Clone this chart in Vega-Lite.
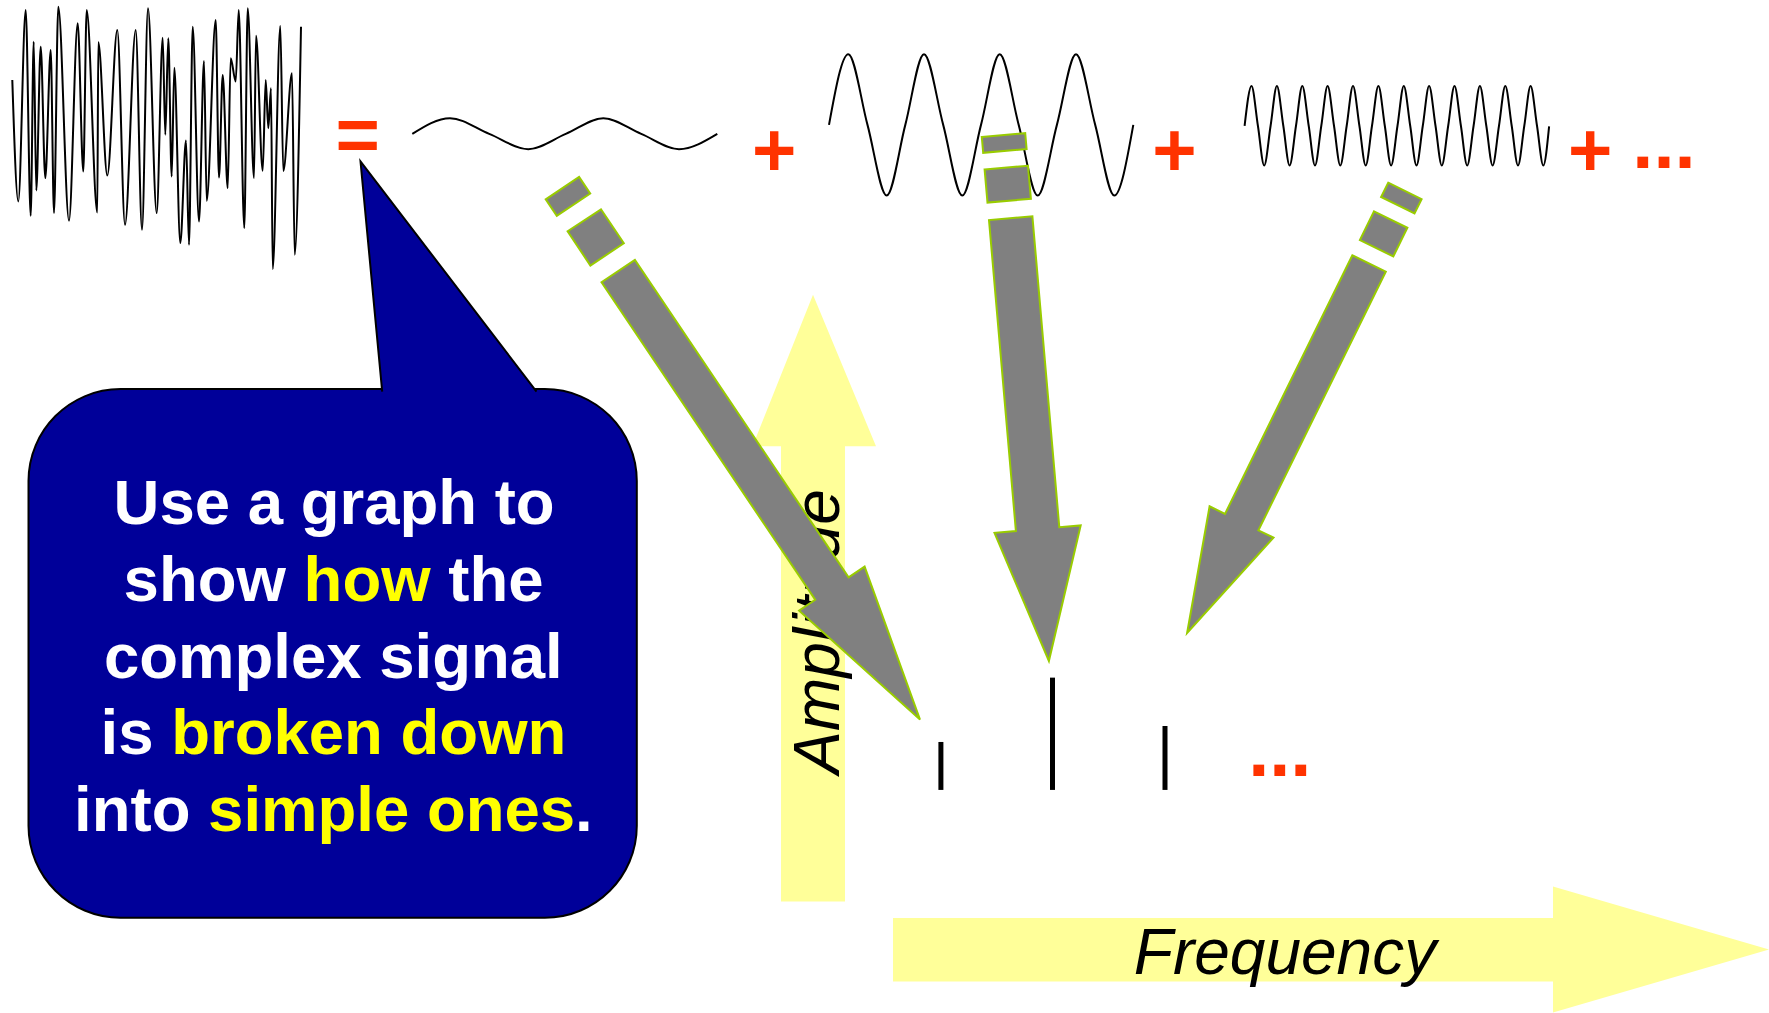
{
  "$schema": "https://vega.github.io/schema/vega-lite/v6.json",
  "width": 1769,
  "height": 1013,
  "autosize": {"type": "fit", "contains": "padding"},
  "padding": 0,
  "background": "white",
  "config": {"view": {"stroke": null}},
  "datasets": {
    "yellowArrows": [
      {"shape": "amp", "i": 0, "x": 781, "y": 902.4},
      {"shape": "amp", "i": 1, "x": 781, "y": 446.7},
      {"shape": "amp", "i": 2, "x": 752.5, "y": 446.7},
      {"shape": "amp", "i": 3, "x": 813, "y": 295},
      {"shape": "amp", "i": 4, "x": 876, "y": 446.7},
      {"shape": "amp", "i": 5, "x": 845, "y": 446.7},
      {"shape": "amp", "i": 6, "x": 845, "y": 902.4},
      {"shape": "freq", "i": 0, "x": 893, "y": 919},
      {"shape": "freq", "i": 1, "x": 1553, "y": 919},
      {"shape": "freq", "i": 2, "x": 1553, "y": 887.5},
      {"shape": "freq", "i": 3, "x": 1769, "y": 950.5},
      {"shape": "freq", "i": 4, "x": 1553, "y": 1013.5},
      {"shape": "freq", "i": 5, "x": 1553, "y": 982.5},
      {"shape": "freq", "i": 6, "x": 893, "y": 982.5}
    ],
    "greyArrows": [
      {"shape": "a1body", "i": 0, "x": 601.5, "y": 282.5},
      {"shape": "a1body", "i": 1, "x": 815.2, "y": 600.4},
      {"shape": "a1body", "i": 2, "x": 799.1, "y": 611.3},
      {"shape": "a1body", "i": 3, "x": 920, "y": 720.3},
      {"shape": "a1body", "i": 4, "x": 864.6, "y": 567.2},
      {"shape": "a1body", "i": 5, "x": 848.6, "y": 578},
      {"shape": "a1body", "i": 6, "x": 634.9, "y": 260.1},
      {"shape": "a1d1", "i": 0, "x": 545.7, "y": 199.5},
      {"shape": "a1d1", "i": 1, "x": 579.1, "y": 177.1},
      {"shape": "a1d1", "i": 2, "x": 590.2, "y": 193.7},
      {"shape": "a1d1", "i": 3, "x": 556.8, "y": 216.1},
      {"shape": "a1d2", "i": 0, "x": 567.6, "y": 231.5},
      {"shape": "a1d2", "i": 1, "x": 601, "y": 209.5},
      {"shape": "a1d2", "i": 2, "x": 623.8, "y": 243.5},
      {"shape": "a1d2", "i": 3, "x": 590.4, "y": 265.8},
      {"shape": "a2body", "i": 0, "x": 989, "y": 220.3},
      {"shape": "a2body", "i": 1, "x": 1015.9, "y": 531.6},
      {"shape": "a2body", "i": 2, "x": 994.5, "y": 533.4},
      {"shape": "a2body", "i": 3, "x": 1048.9, "y": 661.6},
      {"shape": "a2body", "i": 4, "x": 1080.7, "y": 526},
      {"shape": "a2body", "i": 5, "x": 1059.3, "y": 527.8},
      {"shape": "a2body", "i": 6, "x": 1032.4, "y": 216.5},
      {"shape": "a2d1", "i": 0, "x": 981.8, "y": 137.1},
      {"shape": "a2d1", "i": 1, "x": 1025.2, "y": 133.3},
      {"shape": "a2d1", "i": 2, "x": 1026.6, "y": 149.2},
      {"shape": "a2d1", "i": 3, "x": 983.2, "y": 153},
      {"shape": "a2d2", "i": 0, "x": 984.6, "y": 169.7},
      {"shape": "a2d2", "i": 1, "x": 1028, "y": 165.9},
      {"shape": "a2d2", "i": 2, "x": 1030.9, "y": 199},
      {"shape": "a2d2", "i": 3, "x": 987.5, "y": 202.8},
      {"shape": "a3body", "i": 0, "x": 1352.4, "y": 255.5},
      {"shape": "a3body", "i": 1, "x": 1225, "y": 514.4},
      {"shape": "a3body", "i": 2, "x": 1209.6, "y": 506.8},
      {"shape": "a3body", "i": 3, "x": 1187.1, "y": 633.6},
      {"shape": "a3body", "i": 4, "x": 1273.5, "y": 538.2},
      {"shape": "a3body", "i": 5, "x": 1258.4, "y": 530.8},
      {"shape": "a3body", "i": 6, "x": 1385.8, "y": 271.9},
      {"shape": "a3d1", "i": 0, "x": 1388.2, "y": 182.9},
      {"shape": "a3d1", "i": 1, "x": 1421.6, "y": 199.3},
      {"shape": "a3d1", "i": 2, "x": 1414.5, "y": 213.6},
      {"shape": "a3d1", "i": 3, "x": 1381.1, "y": 197.2},
      {"shape": "a3d2", "i": 0, "x": 1374, "y": 211.6},
      {"shape": "a3d2", "i": 1, "x": 1407.4, "y": 228},
      {"shape": "a3d2", "i": 2, "x": 1393.3, "y": 256.7},
      {"shape": "a3d2", "i": 3, "x": 1359.9, "y": 240.3}
    ],
    "pointer": [
      {"i": 0, "x": 382.2, "y": 392},
      {"i": 1, "x": 360.5, "y": 161.5},
      {"i": 2, "x": 536.5, "y": 392}
    ],
    "bubble": [{"x": 28.5, "x2": 636.8, "y": 389.5, "y2": 918.6}],
    "stems": [
      {"freq": 940.9, "amp": 742.7, "base": 790.7},
      {"freq": 1052.5, "amp": 678.3, "base": 790.7},
      {"freq": 1165, "amp": 726.7, "base": 790.7}
    ],
    "redSymbols": [
      {"t": "=", "x": 357.8, "y": 160.8},
      {"t": "+", "x": 774.2, "y": 176.4},
      {"t": "+", "x": 1174.5, "y": 176.4},
      {"t": "+", "x": 1590.3, "y": 176.4},
      {"t": "...", "x": 1664, "y": 168.3},
      {"t": "...", "x": 1279.8, "y": 776.7}
    ],
    "axisLabels": [
      {"t": "Frequency", "x": 1285, "y": 975}
    ],
    "ampLabel": [
      {"t": "Amplitude", "x": 839, "y": 632}
    ],
    "bubbleText": [
      {"t": "Use a graph to", "hl": "n", "x": 113.6, "y": 524.6},
      {"t": "show", "hl": "n", "x": 123.6, "y": 601.4},
      {"t": "how", "hl": "y", "x": 303.6, "y": 601.4},
      {"t": "the", "hl": "n", "x": 448.3, "y": 601.4},
      {"t": "complex signal", "hl": "n", "x": 103.9, "y": 678.2},
      {"t": "is", "hl": "n", "x": 100.6, "y": 755},
      {"t": "broken down", "hl": "y", "x": 171.2, "y": 755},
      {"t": "into", "hl": "n", "x": 74.1, "y": 831.8},
      {"t": "simple ones", "hl": "y", "x": 208.1, "y": 831.8},
      {"t": ".", "hl": "n", "x": 575.1, "y": 831.8}
    ],
    "signals": [
      {"s": "complex", "i": 0, "x": 12.3, "y": 80},
      {"s": "complex", "i": 1, "x": 18.3, "y": 201.7},
      {"s": "complex", "i": 2, "x": 25.7, "y": 10},
      {"s": "complex", "i": 3, "x": 30.7, "y": 216},
      {"s": "complex", "i": 4, "x": 33.7, "y": 41.7},
      {"s": "complex", "i": 5, "x": 36.3, "y": 190.7},
      {"s": "complex", "i": 6, "x": 40.7, "y": 46.7},
      {"s": "complex", "i": 7, "x": 45.3, "y": 178.3},
      {"s": "complex", "i": 8, "x": 50.7, "y": 50},
      {"s": "complex", "i": 9, "x": 54, "y": 213.3},
      {"s": "complex", "i": 10, "x": 58.3, "y": 6.7},
      {"s": "complex", "i": 11, "x": 69, "y": 221},
      {"s": "complex", "i": 12, "x": 77.7, "y": 23.3},
      {"s": "complex", "i": 13, "x": 83.3, "y": 171.7},
      {"s": "complex", "i": 14, "x": 86.7, "y": 10},
      {"s": "complex", "i": 15, "x": 97.3, "y": 212.7},
      {"s": "complex", "i": 16, "x": 98.3, "y": 42.3},
      {"s": "complex", "i": 17, "x": 107.3, "y": 175.7},
      {"s": "complex", "i": 18, "x": 117.3, "y": 30},
      {"s": "complex", "i": 19, "x": 125, "y": 225},
      {"s": "complex", "i": 20, "x": 135.7, "y": 30},
      {"s": "complex", "i": 21, "x": 142, "y": 230},
      {"s": "complex", "i": 22, "x": 148, "y": 8.3},
      {"s": "complex", "i": 23, "x": 156.7, "y": 213.3},
      {"s": "complex", "i": 24, "x": 162.7, "y": 37.7},
      {"s": "complex", "i": 25, "x": 165.3, "y": 135},
      {"s": "complex", "i": 26, "x": 168.3, "y": 38.3},
      {"s": "complex", "i": 27, "x": 171.7, "y": 176.7},
      {"s": "complex", "i": 28, "x": 174.3, "y": 67.7},
      {"s": "complex", "i": 29, "x": 180.3, "y": 243.3},
      {"s": "complex", "i": 30, "x": 186, "y": 140.7},
      {"s": "complex", "i": 31, "x": 189, "y": 245},
      {"s": "complex", "i": 32, "x": 192.7, "y": 26.7},
      {"s": "complex", "i": 33, "x": 199, "y": 221.7},
      {"s": "complex", "i": 34, "x": 204, "y": 61},
      {"s": "complex", "i": 35, "x": 206.7, "y": 201},
      {"s": "complex", "i": 36, "x": 215.7, "y": 20},
      {"s": "complex", "i": 37, "x": 219, "y": 177.7},
      {"s": "complex", "i": 38, "x": 222.7, "y": 75},
      {"s": "complex", "i": 39, "x": 227.7, "y": 188.3},
      {"s": "complex", "i": 40, "x": 230.7, "y": 58.3},
      {"s": "complex", "i": 41, "x": 235.7, "y": 81.7},
      {"s": "complex", "i": 42, "x": 238.7, "y": 10},
      {"s": "complex", "i": 43, "x": 244.3, "y": 228.3},
      {"s": "complex", "i": 44, "x": 247.7, "y": 8.3},
      {"s": "complex", "i": 45, "x": 254, "y": 178.3},
      {"s": "complex", "i": 46, "x": 256, "y": 35.7},
      {"s": "complex", "i": 47, "x": 262.7, "y": 171},
      {"s": "complex", "i": 48, "x": 265.7, "y": 80},
      {"s": "complex", "i": 49, "x": 268.3, "y": 128.3},
      {"s": "complex", "i": 50, "x": 271, "y": 88.3},
      {"s": "complex", "i": 51, "x": 272.7, "y": 269.3},
      {"s": "complex", "i": 52, "x": 280.3, "y": 26},
      {"s": "complex", "i": 53, "x": 283.3, "y": 171},
      {"s": "complex", "i": 54, "x": 292, "y": 73.3},
      {"s": "complex", "i": 55, "x": 294.7, "y": 255},
      {"s": "complex", "i": 56, "x": 301, "y": 26.7},
      {"s": "w1", "i": 0, "x": 412.3, "y": 134},
      {"s": "w1", "i": 1, "x": 450, "y": 118.3},
      {"s": "w1", "i": 2, "x": 489.2, "y": 134},
      {"s": "w1", "i": 3, "x": 528.3, "y": 149.3},
      {"s": "w1", "i": 4, "x": 565.8, "y": 134},
      {"s": "w1", "i": 5, "x": 603.3, "y": 118.3},
      {"s": "w1", "i": 6, "x": 641.2, "y": 134},
      {"s": "w1", "i": 7, "x": 679, "y": 149.3},
      {"s": "w1", "i": 8, "x": 717.3, "y": 134},
      {"s": "w2", "i": 0, "x": 829, "y": 125},
      {"s": "w2", "i": 1, "x": 848.3, "y": 54.3},
      {"s": "w2", "i": 2, "x": 867.5, "y": 125},
      {"s": "w2", "i": 3, "x": 886.7, "y": 195.7},
      {"s": "w2", "i": 4, "x": 905.3, "y": 125},
      {"s": "w2", "i": 5, "x": 924, "y": 54.3},
      {"s": "w2", "i": 6, "x": 943.2, "y": 125},
      {"s": "w2", "i": 7, "x": 962.3, "y": 195.7},
      {"s": "w2", "i": 8, "x": 981, "y": 125},
      {"s": "w2", "i": 9, "x": 999.7, "y": 54.3},
      {"s": "w2", "i": 10, "x": 1018.7, "y": 125},
      {"s": "w2", "i": 11, "x": 1037.7, "y": 195.7},
      {"s": "w2", "i": 12, "x": 1056.9, "y": 125},
      {"s": "w2", "i": 13, "x": 1076, "y": 54.3},
      {"s": "w2", "i": 14, "x": 1095.2, "y": 125},
      {"s": "w2", "i": 15, "x": 1114.3, "y": 195.7},
      {"s": "w2", "i": 16, "x": 1133.3, "y": 125},
      {"s": "w3", "i": 0, "x": 1244.6, "y": 125.9},
      {"s": "w3", "i": 1, "x": 1251.5, "y": 86},
      {"s": "w3", "i": 2, "x": 1257.9, "y": 125.9},
      {"s": "w3", "i": 3, "x": 1264.2, "y": 165.7},
      {"s": "w3", "i": 4, "x": 1270.6, "y": 125.9},
      {"s": "w3", "i": 5, "x": 1276.9, "y": 86},
      {"s": "w3", "i": 6, "x": 1283.3, "y": 125.9},
      {"s": "w3", "i": 7, "x": 1289.6, "y": 165.7},
      {"s": "w3", "i": 8, "x": 1296, "y": 125.9},
      {"s": "w3", "i": 9, "x": 1302.3, "y": 86},
      {"s": "w3", "i": 10, "x": 1308.7, "y": 125.9},
      {"s": "w3", "i": 11, "x": 1315, "y": 165.7},
      {"s": "w3", "i": 12, "x": 1321.3, "y": 125.9},
      {"s": "w3", "i": 13, "x": 1327.6, "y": 86},
      {"s": "w3", "i": 14, "x": 1334, "y": 125.9},
      {"s": "w3", "i": 15, "x": 1340.3, "y": 165.7},
      {"s": "w3", "i": 16, "x": 1346.7, "y": 125.9},
      {"s": "w3", "i": 17, "x": 1353, "y": 86},
      {"s": "w3", "i": 18, "x": 1359.4, "y": 125.9},
      {"s": "w3", "i": 19, "x": 1365.7, "y": 165.7},
      {"s": "w3", "i": 20, "x": 1372, "y": 125.9},
      {"s": "w3", "i": 21, "x": 1378.4, "y": 86},
      {"s": "w3", "i": 22, "x": 1384.8, "y": 125.9},
      {"s": "w3", "i": 23, "x": 1391.1, "y": 165.7},
      {"s": "w3", "i": 24, "x": 1397.5, "y": 125.9},
      {"s": "w3", "i": 25, "x": 1403.8, "y": 86},
      {"s": "w3", "i": 26, "x": 1410.2, "y": 125.9},
      {"s": "w3", "i": 27, "x": 1416.5, "y": 165.7},
      {"s": "w3", "i": 28, "x": 1422.8, "y": 125.9},
      {"s": "w3", "i": 29, "x": 1429.1, "y": 86},
      {"s": "w3", "i": 30, "x": 1435.5, "y": 125.9},
      {"s": "w3", "i": 31, "x": 1441.8, "y": 165.7},
      {"s": "w3", "i": 32, "x": 1448.2, "y": 125.9},
      {"s": "w3", "i": 33, "x": 1454.5, "y": 86},
      {"s": "w3", "i": 34, "x": 1460.9, "y": 125.9},
      {"s": "w3", "i": 35, "x": 1467.2, "y": 165.7},
      {"s": "w3", "i": 36, "x": 1473.6, "y": 125.9},
      {"s": "w3", "i": 37, "x": 1479.9, "y": 86},
      {"s": "w3", "i": 38, "x": 1486.3, "y": 125.9},
      {"s": "w3", "i": 39, "x": 1492.6, "y": 165.7},
      {"s": "w3", "i": 40, "x": 1499, "y": 125.9},
      {"s": "w3", "i": 41, "x": 1505.3, "y": 86},
      {"s": "w3", "i": 42, "x": 1511.7, "y": 125.9},
      {"s": "w3", "i": 43, "x": 1518, "y": 165.7},
      {"s": "w3", "i": 44, "x": 1524.3, "y": 125.9},
      {"s": "w3", "i": 45, "x": 1530.6, "y": 86},
      {"s": "w3", "i": 46, "x": 1537, "y": 125.9},
      {"s": "w3", "i": 47, "x": 1543.3, "y": 165.7},
      {"s": "w3", "i": 48, "x": 1549.1, "y": 126.5}
    ]
  },
  "layer": [
    {
      "data": {"name": "yellowArrows"},
      "mark": {"type": "line", "interpolate": "linear-closed", "fill": "#FFFF99", "stroke": null, "strokeWidth": 0},
      "encoding": {
        "x": {"field": "x", "type": "quantitative", "scale": {"domain": [0, 1769], "nice": false, "zero": false}, "axis": null},
        "y": {"field": "y", "type": "quantitative", "scale": {"domain": [0, 1013], "reverse": true, "nice": false, "zero": false}, "axis": null},
        "detail": {"field": "shape"},
        "order": {"field": "i", "type": "quantitative"}
      }
    },
    {
      "data": {"name": "axisLabels"},
      "mark": {"type": "text", "font": "Liberation Sans", "fontStyle": "italic", "fontSize": 64, "color": "black", "align": "center", "baseline": "alphabetic"},
      "encoding": {
        "x": {"field": "x", "type": "quantitative", "axis": null},
        "y": {"field": "y", "type": "quantitative", "axis": null},
        "text": {"field": "t"}
      }
    },
    {
      "data": {"name": "ampLabel"},
      "mark": {"type": "text", "font": "Liberation Sans", "fontStyle": "italic", "fontSize": 64, "color": "black", "align": "center", "baseline": "alphabetic", "angle": 270},
      "encoding": {
        "x": {"field": "x", "type": "quantitative", "axis": null},
        "y": {"field": "y", "type": "quantitative", "axis": null},
        "text": {"field": "t"}
      }
    },
    {
      "data": {"name": "stems"},
      "mark": {"type": "rule", "color": "black", "strokeWidth": 5},
      "encoding": {
        "x": {"field": "freq", "type": "quantitative", "axis": null},
        "y": {"field": "amp", "type": "quantitative", "axis": null},
        "y2": {"field": "base"}
      }
    },
    {
      "data": {"name": "signals"},
      "mark": {"type": "line", "interpolate": "monotone", "color": "black", "strokeWidth": 2},
      "encoding": {
        "x": {"field": "x", "type": "quantitative", "axis": null},
        "y": {"field": "y", "type": "quantitative", "axis": null},
        "detail": {"field": "s"},
        "order": {"field": "i", "type": "quantitative"}
      }
    },
    {
      "data": {"name": "redSymbols"},
      "mark": {"type": "text", "font": "Liberation Sans", "fontWeight": "bold", "fontSize": 76, "color": "#FF3300", "align": "center", "baseline": "alphabetic"},
      "encoding": {
        "x": {"field": "x", "type": "quantitative", "axis": null},
        "y": {"field": "y", "type": "quantitative", "axis": null},
        "text": {"field": "t"}
      }
    },
    {
      "data": {"name": "bubble"},
      "mark": {"type": "rect", "fill": "#000099", "stroke": "black", "strokeWidth": 2, "cornerRadius": 92},
      "encoding": {
        "x": {"field": "x", "type": "quantitative", "axis": null},
        "x2": {"field": "x2"},
        "y": {"field": "y", "type": "quantitative", "axis": null},
        "y2": {"field": "y2"}
      }
    },
    {
      "data": {"name": "pointer"},
      "mark": {"type": "line", "interpolate": "linear", "fill": "#000099", "stroke": "black", "strokeWidth": 2},
      "encoding": {
        "x": {"field": "x", "type": "quantitative", "axis": null},
        "y": {"field": "y", "type": "quantitative", "axis": null},
        "order": {"field": "i", "type": "quantitative"}
      }
    },
    {
      "data": {"name": "bubbleText"},
      "mark": {"type": "text", "font": "Liberation Sans", "fontWeight": "bold", "fontSize": 63.5, "align": "left", "baseline": "alphabetic"},
      "encoding": {
        "x": {"field": "x", "type": "quantitative", "axis": null},
        "y": {"field": "y", "type": "quantitative", "axis": null},
        "text": {"field": "t"},
        "color": {"field": "hl", "type": "nominal", "scale": {"domain": ["n", "y"], "range": ["#FFFFFF", "#FFFF00"]}, "legend": null}
      }
    },
    {
      "data": {"name": "greyArrows"},
      "mark": {"type": "line", "interpolate": "linear-closed", "fill": "#808080", "stroke": "#99CC00", "strokeWidth": 2},
      "encoding": {
        "x": {"field": "x", "type": "quantitative", "axis": null},
        "y": {"field": "y", "type": "quantitative", "axis": null},
        "detail": {"field": "shape"},
        "order": {"field": "i", "type": "quantitative"}
      }
    }
  ]
}
